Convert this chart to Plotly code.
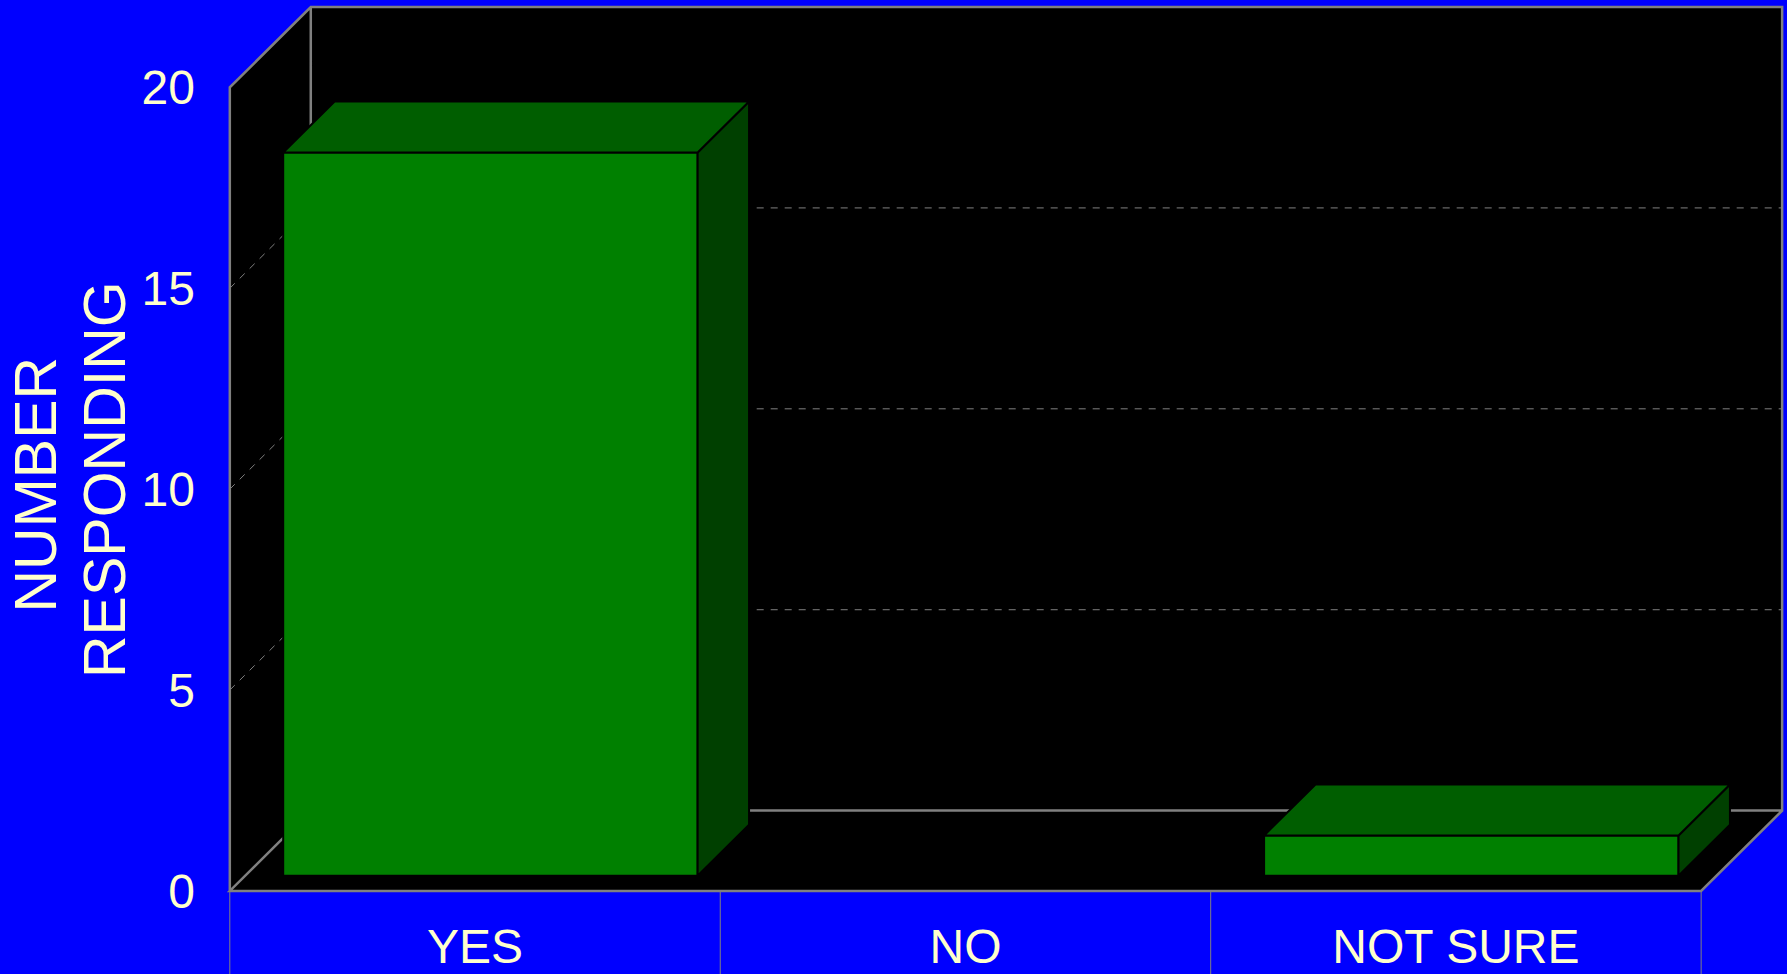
import plotly.graph_objects as go

# ---------------- data ----------------
categories = ["YES", "NO", "NOT SURE"]
responses = [18, 0, 1]
y_tick_values = [0, 5, 10, 15, 20]
y_tick_labels = ["0", "5", "10", "15", "20"]
axis_title_lines = ["NUMBER", "RESPONDING"]

# ---------------- style ----------------
BG = "#0000FF"
TEXT = "#FFFFCC"
GRAY = "#808080"
FRONT = "#008000"
TOP = "#005E00"
SIDE = "#004000"
FONT = "Liberation Sans, Arial, sans-serif"

DX = 0.1651          # depth of the 3D box in x units
DY = 2.0             # depth of the 3D box in y units
BAR_W = 0.845        # bar width (category units)
F0, F1 = 0.19, 0.825 # bar front/back position as a fraction of box depth
Y_TOP = max(y_tick_values)
X_RANGE = [-0.52, 2.673]
Y_RANGE = [-0.1, 22.1]

W, H = 1787, 974
M = dict(l=220, r=1, t=3, b=74)

n = len(categories)
xl, xr = -0.5, n - 0.5

shapes = []
# black 3D box (left wall, back wall, floor)
box = (f"M {xl},0 L {xl},{Y_TOP} L {xl+DX},{Y_TOP+DY} L {xr+DX},{Y_TOP+DY} "
       f"L {xr+DX},{DY} L {xr},0 Z")
shapes.append(dict(type="path", path=box, xref="x", yref="y", layer="below",
                   fillcolor="black", line=dict(width=0)))
# dashed gridlines on side wall + back wall
for v in y_tick_values:
    if 0 < v < Y_TOP:
        shapes.append(dict(type="path", xref="x", yref="y", layer="below",
                           path=f"M {xl},{v} L {xl+DX},{v+DY} L {xr+DX},{v+DY}",
                           line=dict(color=GRAY, width=1, dash="7px,7px")))
# solid box edges
edges = (f"M {xl},0 L {xl},{Y_TOP} L {xl+DX},{Y_TOP+DY} L {xr+DX},{Y_TOP+DY} "
         f"L {xr+DX},{DY} L {xr},0 L {xl},0 L {xl+DX},{DY} L {xr+DX},{DY} "
         f"M {xl+DX},{DY} L {xl+DX},{Y_TOP+DY}")
shapes.append(dict(type="path", path=edges, xref="x", yref="y", layer="below",
                   line=dict(color=GRAY, width=2.5)))
# category separators under the floor
y0_paper = (0 - Y_RANGE[0]) / (Y_RANGE[1] - Y_RANGE[0])
for k in range(n + 1):
    shapes.append(dict(type="line", xref="x", yref="paper", x0=xl + k, x1=xl + k,
                       y0=y0_paper, y1=-0.2, layer="below",
                       line=dict(color=GRAY, width=1)))

# ---------------- bars ----------------
sx0, sy0 = F0 * DX, F0 * DY
ddx, ddy = (F1 - F0) * DX, (F1 - F0) * DY
bar_x = [i + sx0 for i in range(n)]

fig = go.Figure()
fig.add_trace(go.Bar(x=bar_x, y=responses, base=[sy0] * n, width=BAR_W,
                     marker=dict(color=FRONT, line=dict(color="black", width=2)),
                     hoverinfo="skip"))

top_x, top_y, side_x, side_y = [], [], [], []
for i, v in enumerate(responses):
    if v <= 0:
        continue
    xL = bar_x[i] - BAR_W / 2
    xR = bar_x[i] + BAR_W / 2
    t = sy0 + v
    top_x += [xL, xR, xR + ddx, xL + ddx, xL, None]
    top_y += [t, t, t + ddy, t + ddy, t, None]
    side_x += [xR, xR, xR + ddx, xR + ddx, xR, None]
    side_y += [sy0, t, t + ddy, sy0 + ddy, sy0, None]

fig.add_trace(go.Scatter(x=side_x, y=side_y, mode="lines", fill="toself",
                         fillcolor=SIDE, line=dict(color="black", width=2),
                         hoverinfo="skip"))
fig.add_trace(go.Scatter(x=top_x, y=top_y, mode="lines", fill="toself",
                         fillcolor=TOP, line=dict(color="black", width=2),
                         hoverinfo="skip"))

# ---------------- axis title (two rotated lines) ----------------
plot_bottom_px = H - M["b"]
title_pos = [(35.5, 490), (105, 485)]
annotations = []
for line, (cx, cy) in zip(axis_title_lines, title_pos):
    annotations.append(dict(text=line, xref="paper", yref="paper", x=0, y=0,
                            xshift=cx - M["l"], yshift=plot_bottom_px - cy,
                            xanchor="center", yanchor="middle", textangle=-90,
                            showarrow=False,
                            font=dict(family=FONT, size=59, color=TEXT)))

fig.update_layout(
    width=W, height=H, margin=M,
    paper_bgcolor=BG, plot_bgcolor=BG,
    showlegend=False, shapes=shapes, annotations=annotations,
    xaxis=dict(range=X_RANGE, tickvals=list(range(n)), ticktext=categories,
               showgrid=False, zeroline=False, showline=False, ticks="",
               ticklabelstandoff=19,
               tickfont=dict(family=FONT, size=48, color=TEXT), fixedrange=True),
    yaxis=dict(range=Y_RANGE, tickvals=y_tick_values, ticktext=y_tick_labels,
               showgrid=False, zeroline=False, showline=False, ticks="",
               ticklabelstandoff=24,
               tickfont=dict(family=FONT, size=48, color=TEXT), fixedrange=True),
)

fig.write_html("out.html", config={"displayModeBar": False},
               post_script="document.body.style.margin='0';document.body.style.overflow='hidden';")
